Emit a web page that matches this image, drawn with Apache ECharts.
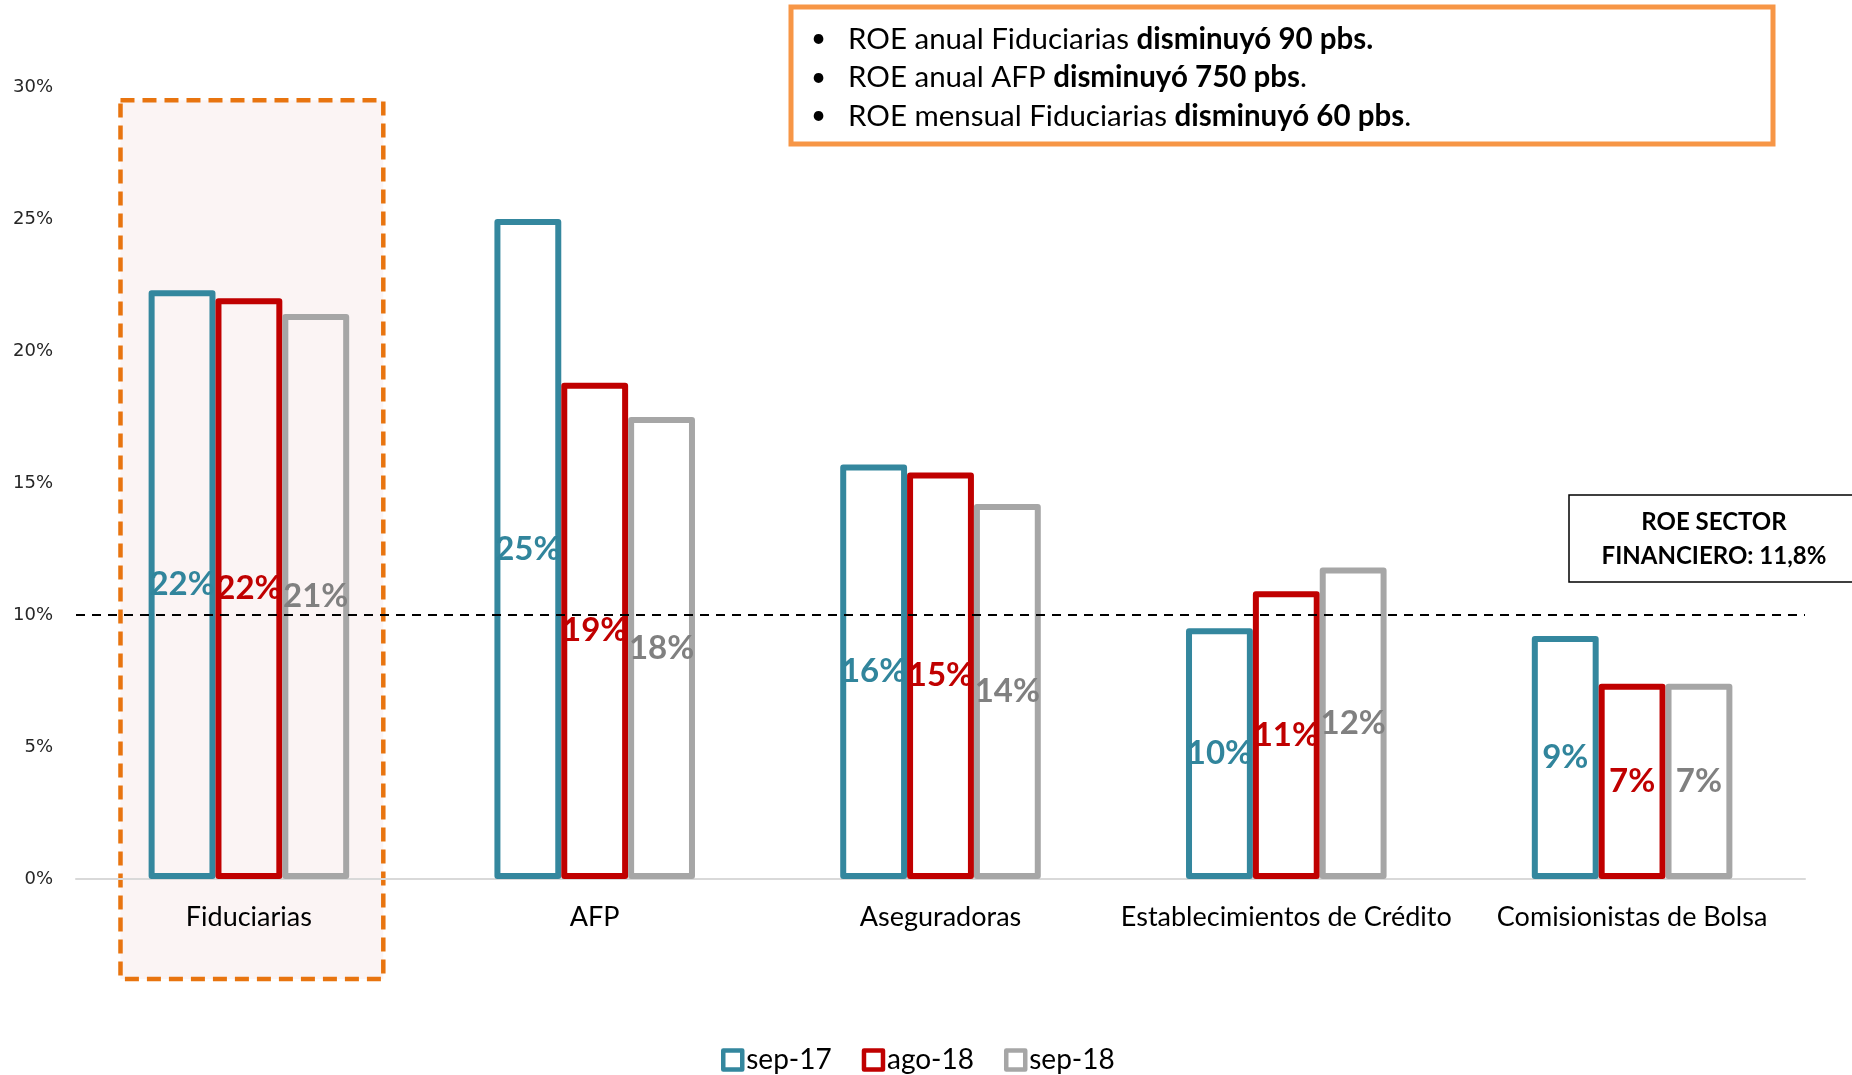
<!DOCTYPE html>
<html><head><meta charset="utf-8">
<script src="https://cdn.jsdelivr.net/npm/echarts@6/dist/echarts.min.js"></script>
<style>html,body{margin:0;padding:0;background:#fff}#c{width:1852px;height:1075px}</style>
</head><body><div id="c"></div>
<script>
const categories = ['Fiduciarias', 'AFP', 'Aseguradoras', 'Establecimientos de Crédito', 'Comisionistas de Bolsa'];
const seriesNames = ['sep-17', 'ago-18', 'sep-18'];
const sep17 = [22.3, 25.0, 15.7, 9.5, 9.2];
const ago18 = [22.0, 18.8, 15.4, 10.9, 7.4];
const sep18 = [21.4, 17.5, 14.2, 11.8, 7.4];
const referenceLine = 10;
const yTicks = [0, 5, 10, 15, 20, 25, 30];
const noteLines = [
  ['ROE anual Fiduciarias ', 'disminuyó 90 pbs.', ''],
  ['ROE anual AFP ', 'disminuyó 750 pbs', '.'],
  ['ROE mensual Fiduciarias ', 'disminuyó 60 pbs', '.']
];
const sectorText = ['ROE SECTOR', 'FINANCIERO: 11,8%'];

const barColors = ['#34879E', '#C00000', '#A6A6A6'];
const labelColors = ['#31859C', '#C00000', '#808080'];
const FONT = 'Lato';
const values = [sep17, ago18, sep18];

const chart = echarts.init(document.getElementById('c'), null, {renderer: 'canvas'});

const series = seriesNames.map((name, i) => ({
  name,
  type: 'bar',
  data: values[i],
  barGap: '0%',
  barCategoryGap: '42%',
  itemStyle: {color: 'rgba(255,255,255,0)', borderColor: barColors[i], borderWidth: 6, borderJoin: 'round'},
  label: {
    show: true, position: 'inside',
    formatter: p => Math.round(p.value) + '%',
    color: labelColors[i], fontFamily: FONT, fontWeight: 'bold', fontSize: 33
  },
  z: 3 + i,
  markLine: i === 0 ? {
    silent: true, symbol: 'none',
    label: {show: false},
    lineStyle: {color: '#000', type: [9, 7], width: 2},
    data: [{yAxis: referenceLine}],
    z: 10
  } : undefined
}));

const option = {
  animation: false,
  backgroundColor: '#fff',
  grid: {left: 76, right: 47, top: 87, bottom: 196, containLabel: false},
  legend: {
    data: seriesNames,
    bottom: -4,
    left: 716,
    icon: 'rect',
    itemWidth: 19, itemHeight: 19,
    itemGap: 30,
    itemStyle: {borderWidth: 4.5, color: '#fff'},
    textStyle: {fontFamily: FONT, fontSize: 28, color: '#000', padding: [0, 0, 0, -1]}
  },
  xAxis: {
    type: 'category', data: categories,
    axisLine: {lineStyle: {color: '#D9D9D9', width: 2}},
    axisTick: {show: false},
    axisLabel: {fontFamily: FONT, fontSize: 27, color: '#000', margin: 25, interval: 0}
  },
  yAxis: {
    type: 'value', min: yTicks[0], max: yTicks[yTicks.length - 1], interval: 5,
    axisLine: {show: false}, axisTick: {show: false}, splitLine: {show: false},
    axisLabel: {fontFamily: 'DejaVu Sans', fontSize: 18, color: '#262626', margin: 23, formatter: '{value}%',
      padding: [3, 0, 0, 0]}
  },
  series
};
chart.setOption(option);

function decorate() {
  const c0 = chart.convertToPixel({xAxisIndex: 0}, categories[0]);
  const c1 = chart.convertToPixel({xAxisIndex: 0}, categories[1]);
  const band = c1 - c0;
  const yTop = chart.convertToPixel({yAxisIndex: 0}, 29.5);
  const y0 = chart.convertToPixel({yAxisIndex: 0}, 0);
  const halfW = band * 0.38;
  const noteRich = {
    r: {fontFamily: FONT, fontSize: 29.5, color: '#000'},
    b: {fontFamily: FONT, fontSize: 29.5, color: '#000', fontWeight: 'bold'}
  };
  const graphics = [
    {
      type: 'rect', z: 0, silent: true,
      shape: {x: c0 + 3 - halfW, y: yTop, width: 2 * halfW, height: y0 + 100 - yTop},
      style: {fill: '#FBF4F4', stroke: '#E8740F', lineWidth: 4.5, lineDash: [14, 8]}
    },
    {
      type: 'rect', z: 20, silent: true,
      shape: {x: 791, y: 7, width: 982, height: 137},
      style: {fill: '#fff', stroke: '#F79646', lineWidth: 5}
    }
  ];
  noteLines.forEach((ln, i) => {
    const cy = 39 + i * 38.5;
    graphics.push({type: 'text', z: 21, silent: true, x: 811, y: cy,
      style: {text: '•', font: '26px Lato', fill: '#000', verticalAlign: 'middle'}});
    graphics.push({type: 'text', z: 21, silent: true, x: 848, y: cy,
      style: {text: '{r|' + ln[0] + '}{b|' + ln[1] + '}' + (ln[2] ? '{r|' + ln[2] + '}' : ''), rich: noteRich,
        verticalAlign: 'middle'}});
  });
  graphics.push({
    type: 'rect', z: 20, silent: true,
    shape: {x: 1569, y: 495, width: 300, height: 87},
    style: {fill: '#fff', stroke: '#000', lineWidth: 1.5}
  });
  graphics.push({
    type: 'text', z: 21, silent: true, x: 1714, y: 539,
    style: {text: sectorText.join('\n'), fontFamily: FONT, fontWeight: 'bold', fontSize: 24, lineHeight: 34,
      fill: '#000', align: 'center', verticalAlign: 'middle'}
  });
  chart.setOption({graphic: graphics});
}
decorate();
</script></body></html>
